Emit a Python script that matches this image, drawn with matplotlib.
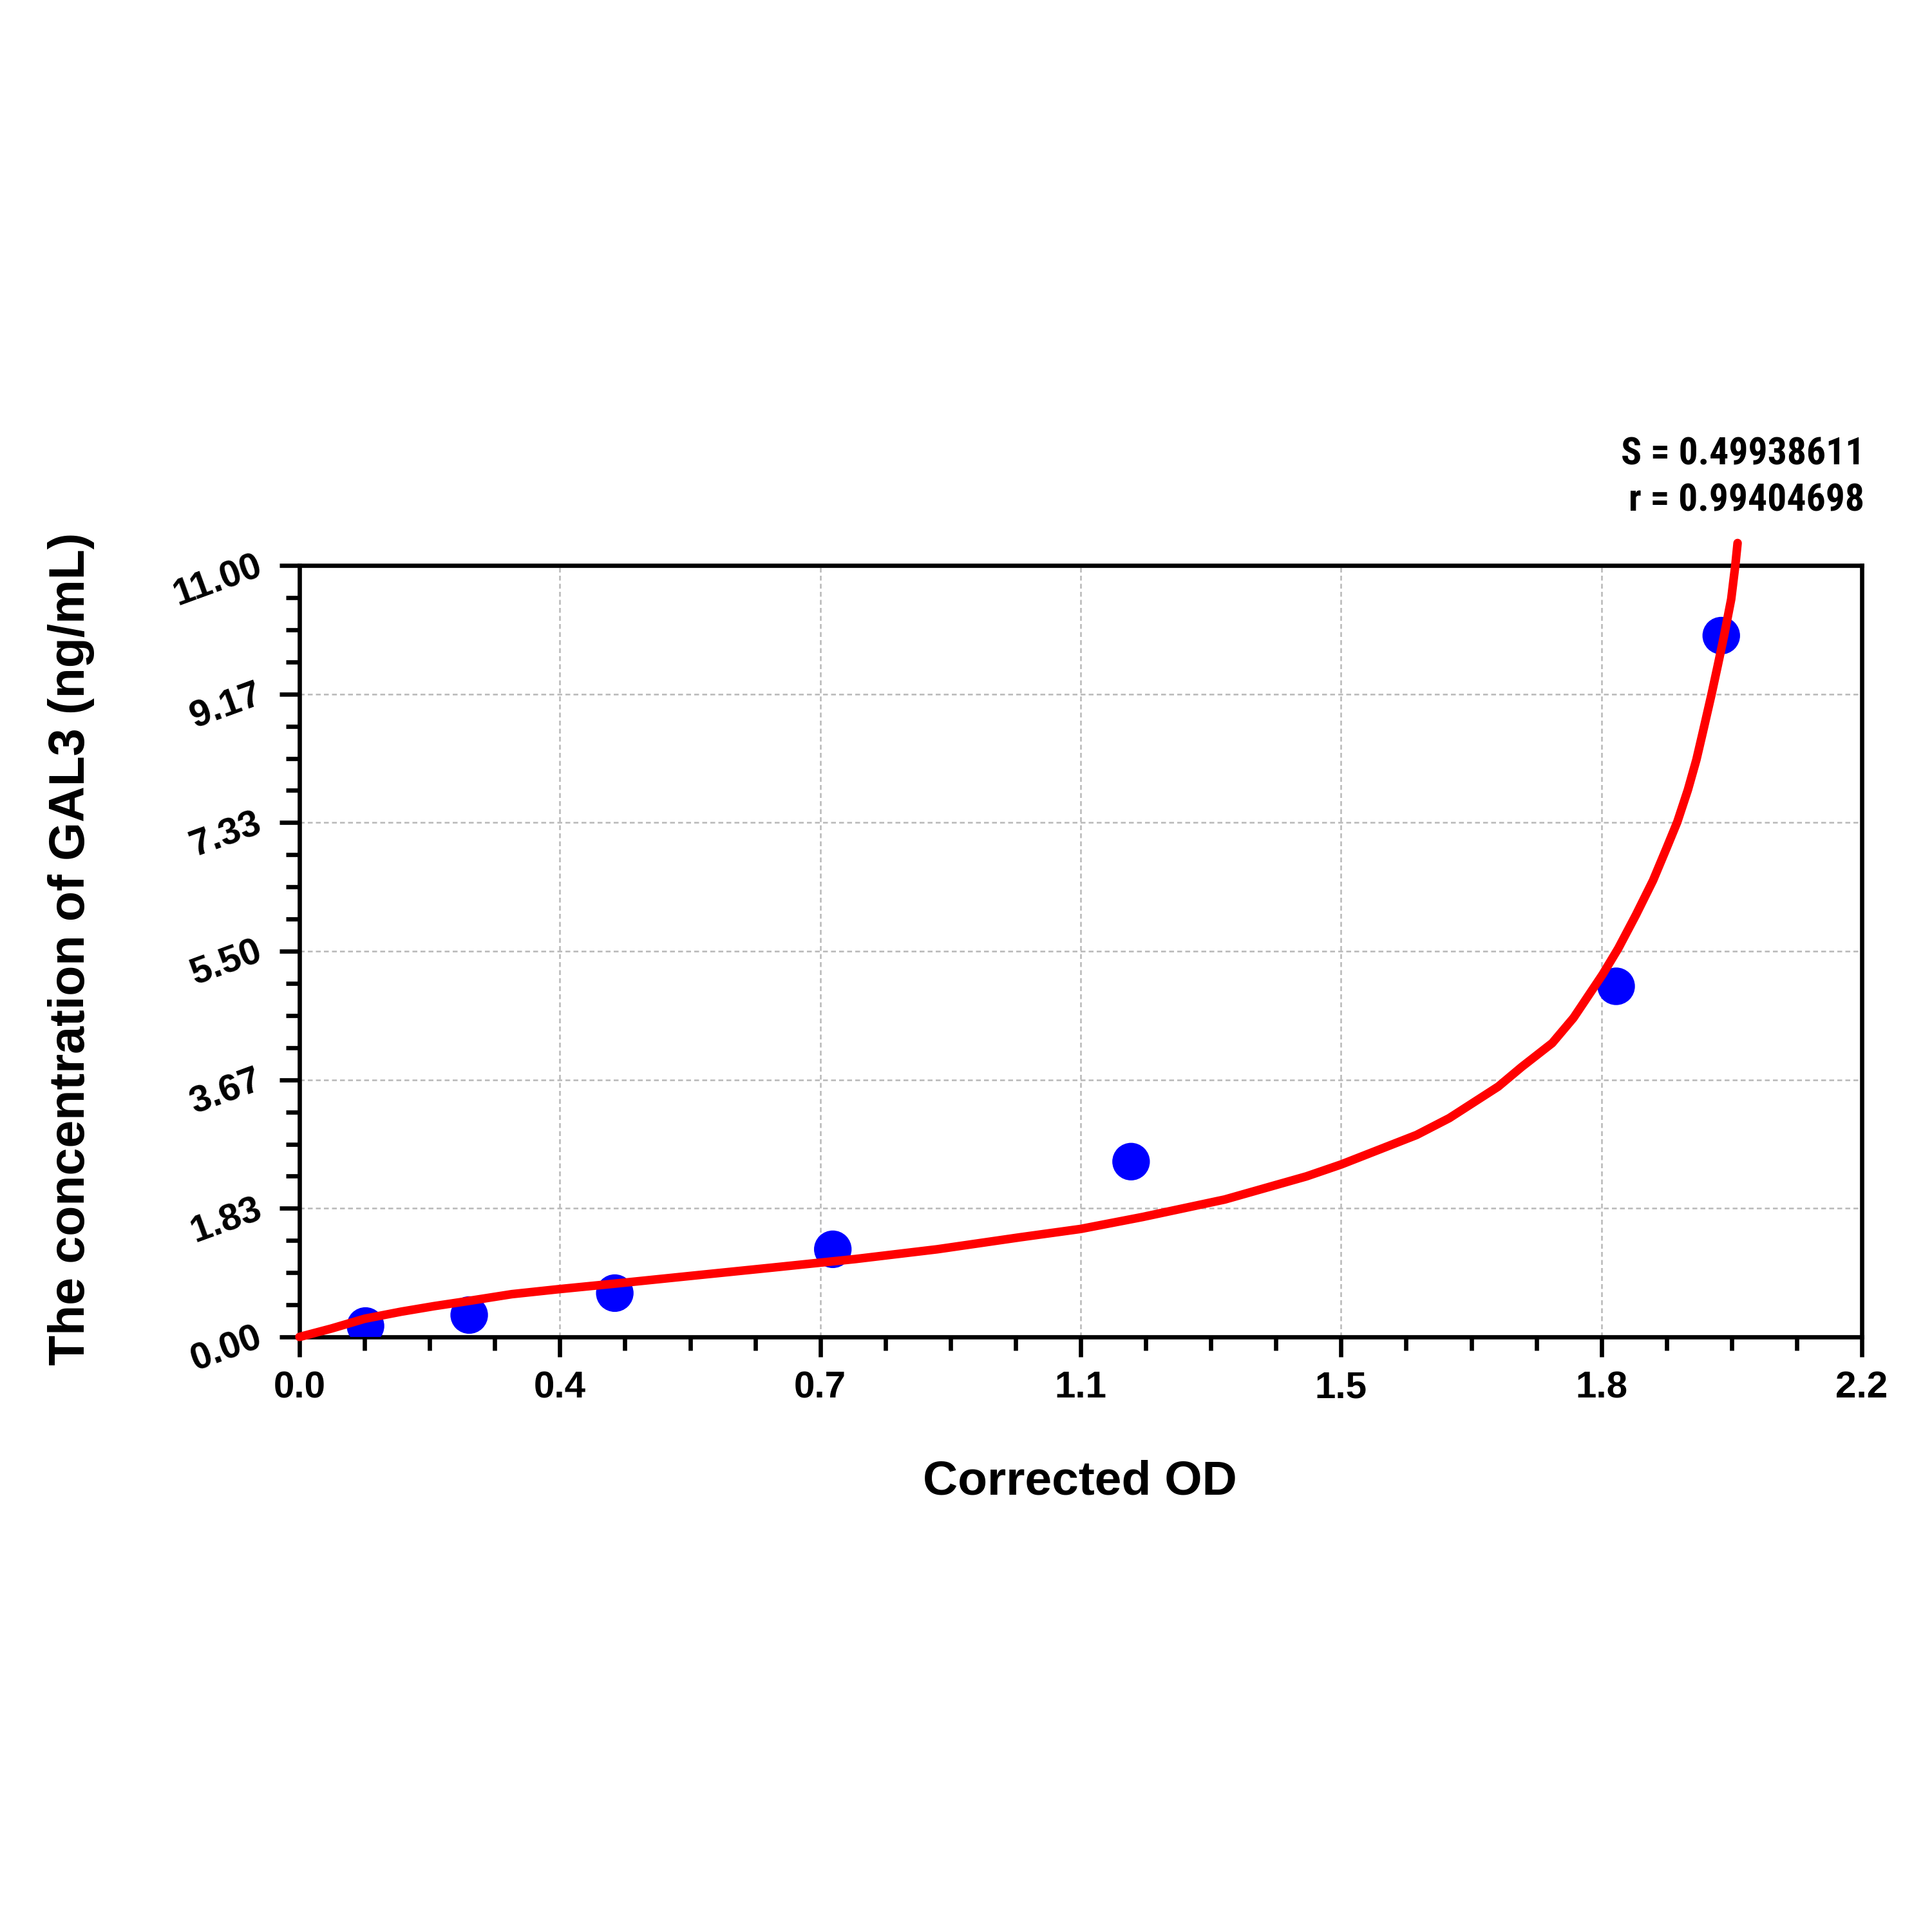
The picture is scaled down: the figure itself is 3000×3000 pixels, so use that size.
import numpy as np
import matplotlib
matplotlib.use('Agg')
import matplotlib.pyplot as plt
from matplotlib import font_manager
from matplotlib.ticker import AutoMinorLocator

plt.rcParams.update({
    'font.family': ['Liberation Sans', 'DejaVu Sans'],
    'font.weight': 'bold',
})

# the fit statistics use a narrow bold face; take one if installed
available = set(font_manager.get_font_names())
narrow = [f for f in ['Liberation Sans Narrow', 'Arial Narrow', 'Roboto Condensed',
                      'Open Sans Condensed'] if f in available]
stat_font = [narrow[0], 'Liberation Sans'] if narrow else ['Liberation Sans']

# standards (corrected OD vs concentration)
od_values = [0.093, 0.239, 0.444, 0.751, 1.171, 1.854, 2.002]
conc_values = [0.156, 0.3125, 0.625, 1.25, 2.5, 5.0, 10.0]

# fitted curve
curve_od = [0.0, 0.045, 0.092, 0.143, 0.190, 0.236, 0.299, 0.364, 0.444,
            0.560, 0.667, 0.782, 0.898, 1.014, 1.100, 1.187, 1.303, 1.418,
            1.467, 1.573, 1.619, 1.688, 1.721, 1.764, 1.794, 1.835, 1.857,
            1.882, 1.906, 1.925, 1.940, 1.955, 1.967, 1.976, 1.988, 1.997,
            2.006, 2.016, 2.022, 2.025]
curve_conc = [0.0, 0.12, 0.26, 0.36, 0.44, 0.51, 0.61, 0.68, 0.76,
              0.88, 0.99, 1.11, 1.25, 1.42, 1.54, 1.71, 1.96, 2.29,
              2.46, 2.88, 3.12, 3.57, 3.85, 4.19, 4.55, 5.17, 5.54,
              6.02, 6.51, 6.97, 7.34, 7.80, 8.23, 8.62, 9.15, 9.57,
              10.00, 10.52, 11.02, 11.32]

x_tick_labels = ['0.0', '0.4', '0.7', '1.1', '1.5', '1.8', '2.2']
y_tick_labels = ['0.00', '1.83', '3.67', '5.50', '7.33', '9.17', '11.00']
fit_text = ['S = 0.49938611', 'r = 0.99404698']

fig = plt.figure(figsize=(10, 10), dpi=300)
ax = fig.add_axes([0.155, 0.308, 0.8087, 0.3993])

ax.scatter(od_values, conc_values, s=14**2, color='#0000ff', edgecolors='none', zorder=3)
ax.plot(curve_od, curve_conc, color='#ff0000', lw=3.2, zorder=4, clip_on=False,
        solid_capstyle='round', solid_joinstyle='round')

ax.set_xlim(0, 2.2)
ax.set_ylim(0, 11)
ax.set_xticks(np.linspace(0, 2.2, 7))
ax.set_xticklabels(x_tick_labels)
ax.set_yticks(np.linspace(0, 11, 7))
ax.set_yticklabels(y_tick_labels, rotation=20, rotation_mode='anchor', ha='right', va='center')
ax.xaxis.set_minor_locator(AutoMinorLocator(4))
ax.yaxis.set_minor_locator(AutoMinorLocator(4))

ax.tick_params(which='major', length=7.5, width=1.6, labelsize=14, direction='out')
ax.tick_params(which='minor', length=5, width=1.6, direction='out')
ax.tick_params(axis='x', which='major', pad=5)
ax.tick_params(axis='y', which='major', pad=7)
for lab in ax.get_xticklabels() + ax.get_yticklabels():
    lab.set_fontweight('bold')

for sp in ax.spines.values():
    sp.set_linewidth(1.6)

ax.grid(True, which='major', color='#b8b8b8', linestyle=(0, (3, 2)), linewidth=0.6)
ax.set_axisbelow(True)

fig.text(0.037, 0.509, 'The concentration of GAL3 (ng/mL)', rotation=90,
         ha='center', va='center', fontsize=18.5, fontweight='bold')
fig.text(0.559, 0.233, 'Corrected OD', ha='center', va='center',
         fontsize=18, fontweight='bold')

fig.text(0.965, 0.765, fit_text[0], ha='right', va='center', fontsize=14.3,
         fontweight='bold', family=stat_font)
fig.text(0.965, 0.741, fit_text[1], ha='right', va='center', fontsize=14.3,
         fontweight='bold', family=stat_font)

fig.savefig('out.png', dpi=300)
